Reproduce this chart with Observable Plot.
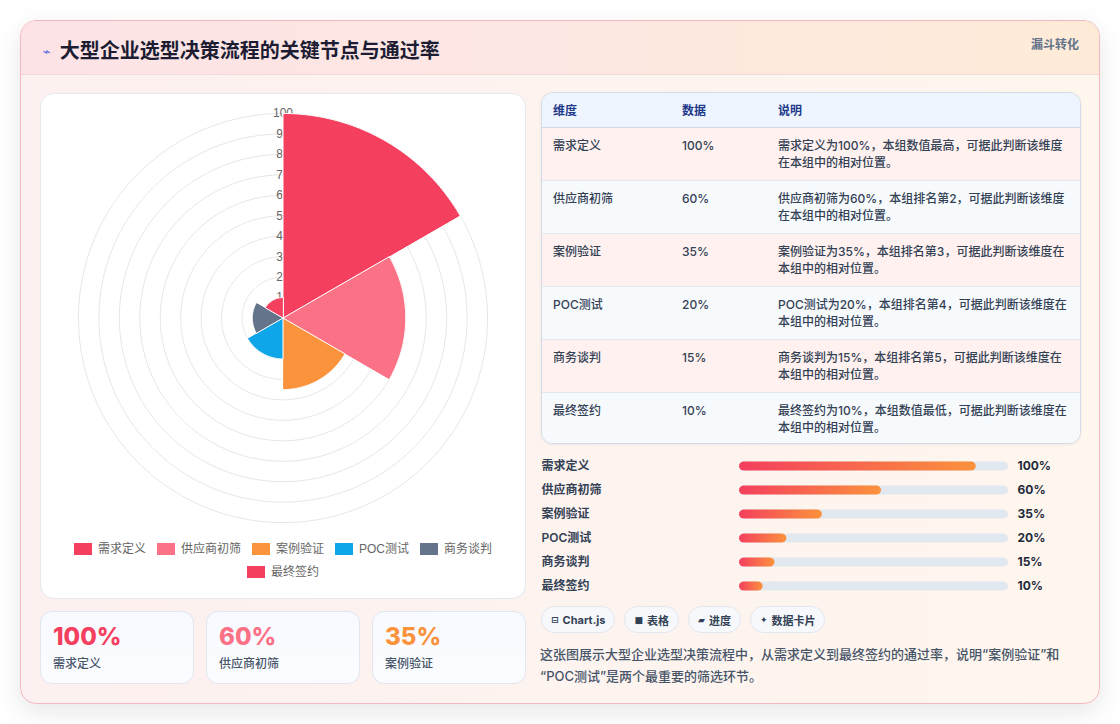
<!DOCTYPE html>
<html>
<head>
<meta charset="utf-8">
<script src="https://cdn.jsdelivr.net/npm/d3@7"></script>
<script src="https://cdn.jsdelivr.net/npm/@observablehq/plot@0.6"></script>
<style>
  html,body{margin:0;padding:0;background:#ffffff;}
  body{width:1120px;height:724px;overflow:hidden;position:relative;font-family:Inter,"Noto Sans CJK SC",sans-serif;}
  .abs{position:absolute;box-sizing:border-box;}
  #outer{left:20px;top:20px;width:1080px;height:684px;border:1px solid #f2b9c1;border-radius:16px;
    background:linear-gradient(90deg,#fdf0f0 0%,#fdf3ef 50%,#fff6ee 100%);box-shadow:0 8px 26px rgba(15,23,42,0.10);overflow:hidden;}
  #header{left:0;top:0;width:1078px;height:54px;background:linear-gradient(90deg,#fde3e6 0%,#fde7e2 50%,#feebd7 100%);border-bottom:1px solid #f1dcdc;}
  #title{left:22px;top:15px;font-size:20px;font-weight:700;color:#1c1d33;line-height:28px;white-space:nowrap;font-family:"Noto Sans CJK SC",sans-serif;}
  #title .ic{color:#5b6be0;font-size:13px;margin-right:9px;position:relative;top:-2px;font-family:"DejaVu Sans",sans-serif;}
  #tag{right:20px;top:14px;font-size:12px;font-weight:700;color:#64748b;line-height:20px;}
  #chartCard{left:40px;top:93px;width:486px;height:506px;background:#fff;border:1px solid #e5e8ee;border-radius:14px;overflow:hidden;}
  #polar{position:absolute;left:-1px;top:-1px;}
  .legendRow{position:absolute;left:0;width:484px;display:flex;justify-content:center;gap:11px;font-family:"Liberation Sans","Noto Sans CJK SC",sans-serif;font-size:12px;color:#666;}
  .li{display:flex;align-items:center;white-space:nowrap;height:16px;line-height:16px;}
  .li .sw{width:18px;height:12px;margin-right:6px;display:inline-block;}
  .kpi{top:611px;width:154px;height:73px;border:1px solid #dfe6f0;border-radius:12px;background:linear-gradient(180deg,#f7faff 0%,#fbfcff 100%);}
  .kpi .v{position:absolute;left:12px;top:10px;font-size:24px;font-weight:800;line-height:30px;}
  .kpi .l{position:absolute;left:12px;top:43px;font-size:12px;color:#475569;line-height:18px;font-weight:500;}
  #tableCard{left:541px;top:92px;width:540px;height:352px;border:1px solid #d3dce8;border-radius:12px;overflow:hidden;background:#f8fafc;box-shadow:0 1px 3px rgba(15,23,42,0.06);}
  table{border-collapse:collapse;width:540px;table-layout:fixed;font-size:12px;}
  th{height:34px;padding:0 0 0 11px;text-align:left;font-weight:600;color:#1e3a8a;background:#eef5fe;border-bottom:1px solid #cfdbea;box-sizing:border-box;}
  td{height:53px;padding:9px 8px 0 11px;vertical-align:top;color:#334155;font-weight:500;line-height:17px;border-bottom:1px solid #e3e8ef;box-sizing:border-box;}
  tr.odd td{background:#fff1ef;}
  tr.even td{background:#f7fafd;}
  tr:last-child td{border-bottom:none;}
  #progress{left:541px;top:451px;}
  #pills{left:541px;top:606px;display:flex;gap:9px;}
  .pill{height:27px;box-sizing:border-box;padding:0 9px;border:1px solid #e2e7ee;border-radius:14px;background:#f6f8fb;font-size:11px;font-weight:700;color:#334155;display:flex;align-items:center;white-space:nowrap;}
  .pill .pi{font-size:9px;margin-right:4px;font-family:"DejaVu Sans",sans-serif;}
  #caption{left:540px;top:643px;width:545px;font-size:13px;line-height:22px;color:#475569;font-weight:500;}
</style>
</head>
<body>
<script>
// ---------- data ----------
const categories = ["需求定义", "供应商初筛", "案例验证", "POC测试", "商务谈判", "最终签约"];
const values = [100, 60, 35, 20, 15, 10];
const sliceColors = ["#f43f5e", "#fb7185", "#fb923c", "#0ea5e9", "#64748b", "#f43f5e"];
const radialTicks = [10, 20, 30, 40, 50, 60, 70, 80, 90, 100];
const radialMax = 100;
const descriptions = [
  ["需求定义为100%，本组数值最高，可据此判断该维度", "在本组中的相对位置。"],
  ["供应商初筛为60%，本组排名第2，可据此判断该维度", "在本组中的相对位置。"],
  ["案例验证为35%，本组排名第3，可据此判断该维度在", "本组中的相对位置。"],
  ["POC测试为20%，本组排名第4，可据此判断该维度在", "本组中的相对位置。"],
  ["商务谈判为15%，本组排名第5，可据此判断该维度在", "本组中的相对位置。"],
  ["最终签约为10%，本组数值最低，可据此判断该维度在", "本组中的相对位置。"]
];
const kpiCount = 3;
const progressScaleMax = 113.6; // bars were mid-animation in the reference
const pills = [["⊟", "Chart.js"], ["■", "表格"], ["▰", "进度"], ["✦", "数据卡片"]];
const titleText = "大型企业选型决策流程的关键节点与通过率";
const tagText = "漏斗转化";
const captionLines = ["这张图展示大型企业选型决策流程中，从需求定义到最终签约的通过率，说明“案例验证”和", "“POC测试”是两个最重要的筛选环节。"];
</script>

<div id="outer" class="abs">
  <div id="header" class="abs">
    <div id="title" class="abs"><span class="ic">⌁</span><span id="titleText"></span></div>
    <div id="tag" class="abs"></div>
  </div>
</div>
<div id="chartCard" class="abs"><div id="polar"></div></div>
<div id="tableCard" class="abs"></div>
<div id="progress" class="abs"></div>
<div id="pills" class="abs"></div>
<div id="caption" class="abs"></div>

<script>
document.getElementById("titleText").textContent = titleText;
document.getElementById("tag").textContent = tagText;

// ---------- polar area chart ----------
const n = categories.length;
function arcPoints(r, a0, a1, steps) {
  const pts = [];
  for (let k = 0; k <= steps; k++) {
    const a = a0 + (a1 - a0) * k / steps;
    pts.push([r * Math.sin(a), r * Math.cos(a)]);
  }
  return pts;
}
const sectors = categories.map((c, i) => {
  const a0 = i * 2 * Math.PI / n, a1 = (i + 1) * 2 * Math.PI / n;
  const ring = [[0, 0], ...arcPoints(values[i], a0, a1, 60), [0, 0]];
  return {type: "Feature", properties: {name: c, value: values[i]}, geometry: {type: "Polygon", coordinates: [ring]}};
});
const rings = radialTicks.map(t => ({type: "Feature", properties: {t}, geometry: {type: "LineString", coordinates: arcPoints(t, 0, 2 * Math.PI, 180)}}));

const polar = Plot.plot({
  width: 486, height: 450,
  marginLeft: 38, marginRight: 38, marginTop: 20, marginBottom: 20,
  projection: {type: "reflect-y", domain: {type: "MultiPoint", coordinates: [[-radialMax, -radialMax], [radialMax, radialMax]]}},
  color: {domain: categories, range: sliceColors},
  style: {fontFamily: "'Liberation Sans', Arial, sans-serif", background: "transparent"},
  marks: [
    Plot.geo(rings, {stroke: "#e6e6e6", strokeWidth: 1}),
    Plot.text(radialTicks, {x: () => 0, y: d => d, text: d => String(d), fill: "#666", fontSize: 12}),
    Plot.geo(sectors, {fill: d => d.properties.name, stroke: "#ffffff", strokeWidth: 1})
  ]
});
document.getElementById("polar").appendChild(polar);

// legend (two rows like the reference)
const card = document.getElementById("chartCard");
const legendRows = [categories.slice(0, 5).map((c, i) => i), [5]];
legendRows.forEach((row, r) => {
  const div = document.createElement("div");
  div.className = "legendRow";
  div.style.top = (447 + r * 23) + "px";
  row.forEach(i => {
    const it = document.createElement("div");
    it.className = "li";
    it.innerHTML = `<span class="sw" style="background:${sliceColors[i]}"></span>${categories[i]}`;
    div.appendChild(it);
  });
  card.appendChild(div);
});

// KPI cards
for (let i = 0; i < kpiCount; i++) {
  const k = document.createElement("div");
  k.className = "abs kpi";
  k.style.left = (40 + i * 166) + "px";
  k.innerHTML = `<div class="v" style="color:${sliceColors[i]}">${values[i]}%</div><div class="l">${categories[i]}</div>`;
  document.body.appendChild(k);
}

// ---------- table ----------
let html = `<table><colgroup><col style="width:129px"><col style="width:96px"><col style="width:315px"></colgroup>
<thead><tr><th>维度</th><th>数据</th><th>说明</th></tr></thead><tbody>`;
categories.forEach((c, i) => {
  html += `<tr class="${i % 2 === 0 ? "odd" : "even"}"><td>${c}</td><td>${values[i]}%</td><td>${descriptions[i][0]}<br>${descriptions[i][1]}</td></tr>`;
});
html += `</tbody></table>`;
document.getElementById("tableCard").innerHTML = html;

// ---------- progress bars ----------
const progData = categories.map((c, i) => ({name: c, value: values[i]}));
const prog = Plot.plot({
  width: 540, height: 149,
  marginLeft: 198, marginRight: 73, marginTop: 0, marginBottom: 0,
  x: {domain: [0, progressScaleMax], axis: null},
  y: {domain: categories, axis: null, padding: 0},
  style: {fontFamily: "Inter, 'Noto Sans CJK SC', sans-serif", background: "transparent", overflow: "visible"},
  marks: [
    Plot.barX(progData, {y: "name", x1: () => 0, x2: () => progressScaleMax, fill: "#e2e8f0", rx: 5, insetTop: 7.4, insetBottom: 7.4}),
    Plot.barX(progData, {y: "name", x1: () => 0, x2: "value", fill: "url(#pgGrad)", rx: 5, insetTop: 7.4, insetBottom: 7.4}),
    Plot.text(progData, {y: "name", frameAnchor: "left", dx: -198, textAnchor: "start", text: "name", fill: "#334155", fontSize: 12, fontWeight: 600}),
    Plot.text(progData, {y: "name", frameAnchor: "right", dx: 9, textAnchor: "start", text: d => d.value + "%", fill: "#1e293b", fontSize: 12, fontWeight: 700})
  ]
});
const defs = d3.select(prog).insert("defs", ":first-child");
const lg = defs.append("linearGradient").attr("id", "pgGrad").attr("x1", "0").attr("x2", "1").attr("y1", "0").attr("y2", "0");
lg.append("stop").attr("offset", "0%").attr("stop-color", "#f43f5e");
lg.append("stop").attr("offset", "100%").attr("stop-color", "#fb923c");
document.getElementById("progress").appendChild(prog);

// ---------- pills & caption ----------
const pillBox = document.getElementById("pills");
pills.forEach(([ic, t]) => {
  const p = document.createElement("div");
  p.className = "pill";
  p.innerHTML = `<span class="pi">${ic}</span>${t}`;
  pillBox.appendChild(p);
});
document.getElementById("caption").innerHTML = captionLines.join("<br>");
</script>
</body>
</html>
